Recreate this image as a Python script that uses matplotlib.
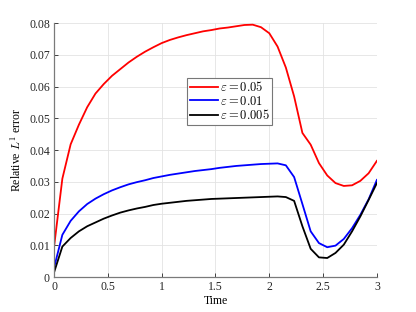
import numpy as np
import matplotlib
matplotlib.use("Agg")
import matplotlib.pyplot as plt

plt.rcParams['font.family'] = ['Liberation Serif', 'DejaVu Serif']
plt.rcParams['mathtext.fontset'] = 'cm'

# time samples (40 steps on [0, 3])
time = np.linspace(0, 3, 40)

# relative L1 error
err_005 = [0.0096, 0.0310, 0.0418, 0.0480, 0.0535, 0.0578, 0.0608, 0.0634, 0.0655, 0.0676,
           0.0694, 0.0710, 0.0724, 0.0737, 0.0747, 0.0755, 0.0762, 0.0768, 0.0774, 0.0778,
           0.0783, 0.0786, 0.0790, 0.0794, 0.0795, 0.0787, 0.0768, 0.0726, 0.0660, 0.0569,
           0.0454, 0.0417, 0.0359, 0.0320, 0.0296, 0.0287, 0.0289, 0.0303, 0.0327, 0.0366]
err_001 = [0.0030, 0.0133, 0.0177, 0.0207, 0.0230, 0.0247, 0.0261, 0.0273, 0.0283, 0.0292,
           0.0299, 0.0305, 0.0312, 0.0317, 0.0322, 0.0326, 0.0330, 0.0334, 0.0337, 0.0340,
           0.0344, 0.0347, 0.0350, 0.0352, 0.0354, 0.0356, 0.0357, 0.0358, 0.0352, 0.0315,
           0.0230, 0.0144, 0.0107, 0.0094, 0.0099, 0.0120, 0.0154, 0.0196, 0.0245, 0.0306]
err_0005 = [0.0015, 0.0096, 0.0123, 0.0144, 0.0160, 0.0172, 0.0184, 0.0194, 0.0203, 0.0210,
            0.0216, 0.0221, 0.0227, 0.0231, 0.0234, 0.0237, 0.0240, 0.0242, 0.0244, 0.0246,
            0.0247, 0.0248, 0.0249, 0.0250, 0.0251, 0.0252, 0.0253, 0.0254, 0.0252, 0.0240,
            0.0160, 0.0089, 0.0062, 0.0060, 0.0076, 0.0102, 0.0144, 0.0191, 0.0243, 0.0296]

labels = [r'$\varepsilon = 0.05$', r'$\varepsilon = 0.01$', r'$\varepsilon = 0.005$']
colors = ['#ff0000', '#0000ff', '#000000']

fig = plt.figure(figsize=(4.16, 3.12), dpi=100)
ax = fig.add_axes([0.13, 0.112, 0.776, 0.814])

for y, lab, c in zip([err_005, err_001, err_0005], labels, colors):
    ax.plot(time, y, color=c, lw=1.3, label=lab)

ax.set_xlim(0, 3)
ax.set_ylim(0, 0.08)
ax.set_xticks([0, 0.5, 1, 1.5, 2, 2.5, 3])
ax.set_xticklabels(['0', '0.5', '1', '1.5', '2', '2.5', '3'])
ax.set_yticks(np.arange(0, 0.081, 0.01))
ax.set_yticklabels(['0'] + ['%.2f' % v for v in np.arange(0.01, 0.081, 0.01)])

ax.grid(True, color='#e3e3e3', lw=0.6)
ax.set_axisbelow(True)
for s in ['top', 'right']:
    ax.spines[s].set_visible(False)
for s in ['left', 'bottom']:
    ax.spines[s].set_color('#7a7a7a')
    ax.spines[s].set_linewidth(0.9)
ax.tick_params(direction='in', length=3, width=0.6, colors='#262626', labelsize=8.5, pad=3)

ax.set_xlabel('Time', fontsize=8.5, labelpad=1)
ax.set_ylabel(r'Relative $L^1$ error', fontsize=8.5, labelpad=4)

leg = ax.legend(loc='upper left', bbox_to_anchor=(0.412, 0.785), fontsize=9,
                frameon=True, fancybox=False, framealpha=1, edgecolor='#777777',
                handlelength=2.3, handletextpad=0.15, borderpad=0.2, labelspacing=0.05,
                borderaxespad=0)
leg.get_frame().set_linewidth(0.8)

fig.savefig('out.png', dpi=100)
